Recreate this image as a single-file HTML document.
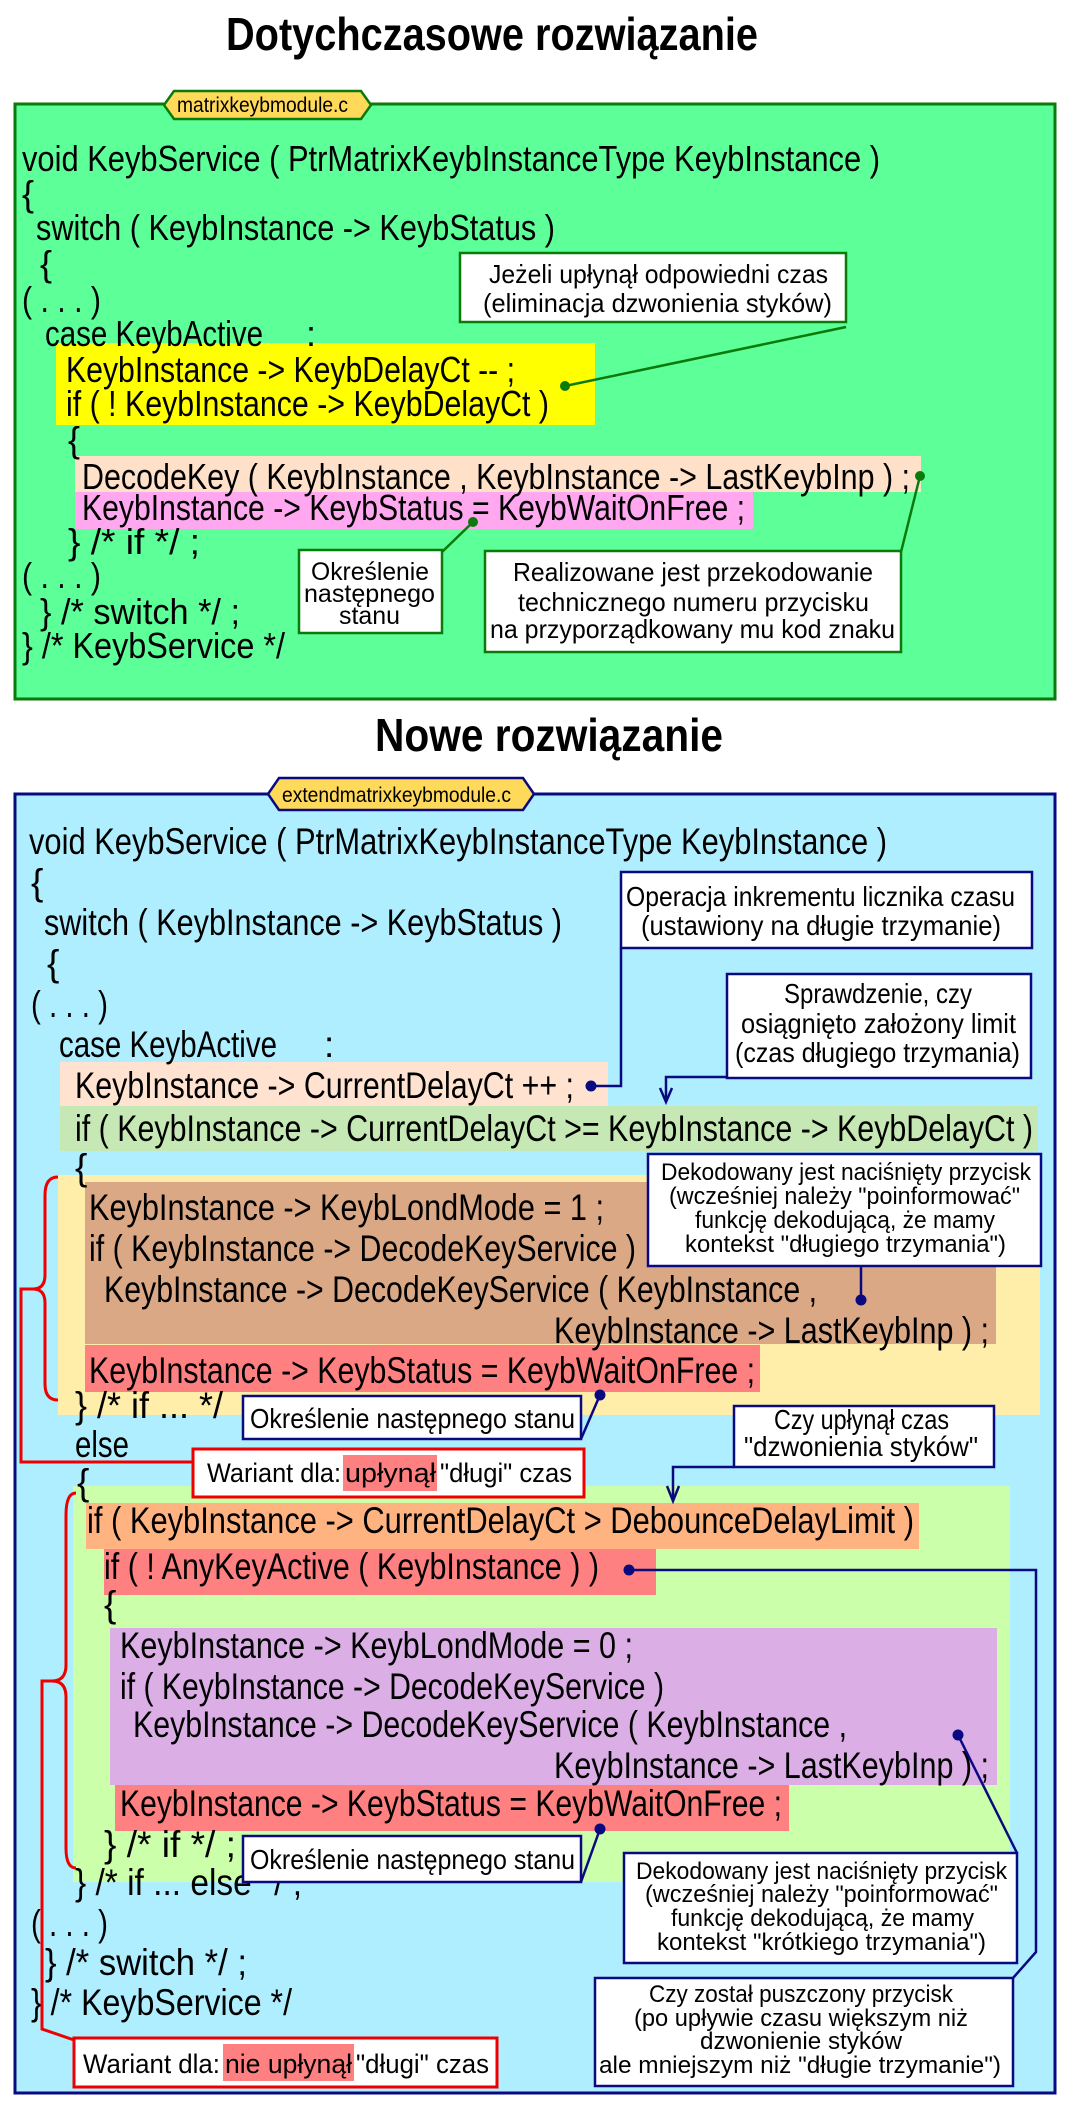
<!DOCTYPE html>
<html><head><meta charset="utf-8"><style>
html,body{margin:0;padding:0;background:#fff}
svg{display:block}
text{font-family:"Liberation Sans Narrow","Liberation Sans",sans-serif;fill:#000}
.c{font-size:36px}
.n{font-size:26px}
.s{font-size:22px}
.t{font-size:46px;font-weight:bold}
</style></head><body>
<svg width="1078" height="2115" viewBox="0 0 1078 2115" xmlns="http://www.w3.org/2000/svg">
<defs><marker id="ar" viewBox="0 0 10 10" refX="5" refY="10" markerWidth="10" markerHeight="14" markerUnits="userSpaceOnUse" orient="auto"></marker></defs>
<!-- Title 1 -->
<text class="t" x="226" y="50" textLength="532" lengthAdjust="spacingAndGlyphs">Dotychczasowe rozwiązanie</text>

<!-- Green box -->
<rect x="15" y="104" width="1040" height="595" fill="#5cff98" stroke="#0a7a0a" stroke-width="3"/>
<polygon points="164,105 174,91 361,91 371,105 361,119 174,119" fill="#ffd95a" stroke="#0a7a0a" stroke-width="2.5"/>
<text x="177" y="112" style="font-size:21px" textLength="171" lengthAdjust="spacingAndGlyphs">matrixkeybmodule.c</text>

<rect x="56" y="343" width="539" height="82" fill="#ffff00"/>
<rect x="75" y="456" width="846" height="36" fill="#ffe0c8"/>
<rect x="75" y="492" width="678" height="37" fill="#ffa8f0"/>

<g class="c">
<text x="22" y="171" textLength="858" lengthAdjust="spacingAndGlyphs">void KeybService ( PtrMatrixKeybInstanceType KeybInstance )</text>
<text x="22" y="206">{</text>
<text x="36" y="240" textLength="519" lengthAdjust="spacingAndGlyphs">switch ( KeybInstance -&gt; KeybStatus )</text>
<text x="40" y="276">{</text>
<text x="22" y="312" textLength="79" lengthAdjust="spacingAndGlyphs">( . . . )</text>
<text x="45" y="346" textLength="218" lengthAdjust="spacingAndGlyphs">case KeybActive</text>
<text x="306" y="346">:</text>
<text x="66" y="382" textLength="449" lengthAdjust="spacingAndGlyphs">KeybInstance -&gt; KeybDelayCt -- ;</text>
<text x="66" y="416" textLength="483" lengthAdjust="spacingAndGlyphs">if ( ! KeybInstance -&gt; KeybDelayCt )</text>
<text x="68" y="452">{</text>
<text x="82" y="489" textLength="828" lengthAdjust="spacingAndGlyphs">DecodeKey ( KeybInstance , KeybInstance -&gt; LastKeybInp ) ;</text>
<text x="82" y="520" textLength="663" lengthAdjust="spacingAndGlyphs">KeybInstance -&gt; KeybStatus = KeybWaitOnFree ;</text>
<text x="68" y="554" textLength="132" lengthAdjust="spacingAndGlyphs">} /* if */ ;</text>
<text x="22" y="588" textLength="79" lengthAdjust="spacingAndGlyphs">( . . . )</text>
<text x="40" y="624" textLength="200" lengthAdjust="spacingAndGlyphs">} /* switch */ ;</text>
<text x="22" y="658" textLength="263" lengthAdjust="spacingAndGlyphs">} /* KeybService */</text>
</g>

<!-- green callouts -->
<g stroke="#0a7a0a" stroke-width="2.5" fill="none">
<line x1="846" y1="327" x2="565" y2="386"/>
<line x1="442" y1="552" x2="473" y2="522"/>
<line x1="901" y1="552" x2="920" y2="476"/>
</g>
<g fill="#0a7a0a"><circle cx="565" cy="386" r="5"/><circle cx="473" cy="522" r="5"/><circle cx="920" cy="476" r="5"/></g>
<rect x="460" y="253" width="386" height="69" fill="#fff" stroke="#0a7a0a" stroke-width="2.5"/>
<text class="n" x="489" y="283" textLength="339" lengthAdjust="spacingAndGlyphs">Jeżeli upłynął odpowiedni czas</text>
<text class="n" x="483" y="312" textLength="349" lengthAdjust="spacingAndGlyphs">(eliminacja dzwonienia styków)</text>
<rect x="299" y="550" width="143" height="83" fill="#fff" stroke="#0a7a0a" stroke-width="2.5"/>
<text class="s" style="font-size:25px" x="311" y="580" textLength="118" lengthAdjust="spacingAndGlyphs">Określenie</text>
<text class="s" style="font-size:25px" x="304" y="602" textLength="131" lengthAdjust="spacingAndGlyphs">następnego</text>
<text class="s" style="font-size:25px" x="339" y="624" textLength="61" lengthAdjust="spacingAndGlyphs">stanu</text>
<rect x="485" y="551" width="416" height="101" fill="#fff" stroke="#0a7a0a" stroke-width="2.5"/>
<text class="n" x="513" y="581" textLength="360" lengthAdjust="spacingAndGlyphs">Realizowane jest przekodowanie</text>
<text class="n" x="518" y="611" textLength="351" lengthAdjust="spacingAndGlyphs">technicznego numeru przycisku</text>
<text class="n" x="490" y="638" textLength="405" lengthAdjust="spacingAndGlyphs">na przyporządkowany mu kod znaku</text>

<!-- Title 2 -->
<text class="t" x="375" y="751" textLength="348" lengthAdjust="spacingAndGlyphs">Nowe rozwiązanie</text>

<!-- Blue box -->
<rect x="15" y="794" width="1040" height="1299" fill="#aeeeff" stroke="#0a0a80" stroke-width="3"/>
<polygon points="268,794 279,778 523,778 534,794 523,810 279,810" fill="#ffd95a" stroke="#0a0a80" stroke-width="2.5"/>
<text x="282" y="802" style="font-size:21px" textLength="229" lengthAdjust="spacingAndGlyphs">extendmatrixkeybmodule.c</text>

<rect x="60" y="1062" width="548" height="44" fill="#ffe3d0"/>
<rect x="60" y="1106" width="978" height="45" fill="#c6e8b4"/>
<rect x="58" y="1175" width="982" height="240" fill="#ffeeaa"/>
<rect x="85" y="1182" width="911" height="162" fill="#dba886"/>
<rect x="85" y="1345" width="675" height="47" fill="#ff8080"/>
<rect x="73" y="1486" width="937" height="396" fill="#ccffaa"/>
<rect x="86" y="1503" width="833" height="46" fill="#ffb380"/>
<rect x="104" y="1549" width="552" height="46" fill="#ff8080"/>
<rect x="110" y="1628" width="887" height="157" fill="#dcaee6"/>
<rect x="115" y="1785" width="674" height="46" fill="#ff8080"/>

<g class="c" style="font-size:37px">
<text x="29" y="854" textLength="858" lengthAdjust="spacingAndGlyphs">void KeybService ( PtrMatrixKeybInstanceType KeybInstance )</text>
<text x="31" y="895">{</text>
<text x="44" y="935" textLength="518" lengthAdjust="spacingAndGlyphs">switch ( KeybInstance -&gt; KeybStatus )</text>
<text x="47" y="976">{</text>
<text x="31" y="1017" textLength="77" lengthAdjust="spacingAndGlyphs">( . . . )</text>
<text x="59" y="1057" textLength="218" lengthAdjust="spacingAndGlyphs">case KeybActive</text>
<text x="324" y="1057">:</text>
<text x="75" y="1098" textLength="499" lengthAdjust="spacingAndGlyphs">KeybInstance -&gt; CurrentDelayCt ++ ;</text>
<text x="75" y="1141" textLength="958" lengthAdjust="spacingAndGlyphs">if ( KeybInstance -&gt; CurrentDelayCt &gt;= KeybInstance -&gt; KeybDelayCt )</text>
<text x="75" y="1180">{</text>
<text x="89" y="1220" textLength="515" lengthAdjust="spacingAndGlyphs">KeybInstance -&gt; KeybLondMode = 1 ;</text>
<text x="89" y="1261" textLength="547" lengthAdjust="spacingAndGlyphs">if ( KeybInstance -&gt; DecodeKeyService )</text>
<text x="104" y="1302" textLength="713" lengthAdjust="spacingAndGlyphs">KeybInstance -&gt; DecodeKeyService ( KeybInstance ,</text>
<text x="554" y="1343" textLength="435" lengthAdjust="spacingAndGlyphs">KeybInstance -&gt; LastKeybInp ) ;</text>
<text x="89" y="1383" textLength="666" lengthAdjust="spacingAndGlyphs">KeybInstance -&gt; KeybStatus = KeybWaitOnFree ;</text>
<text x="75" y="1418" textLength="148" lengthAdjust="spacingAndGlyphs">} /* if ... */</text>
<text x="75" y="1457" textLength="54" lengthAdjust="spacingAndGlyphs">else</text>
<text x="77" y="1495">{</text>
<text x="87" y="1533" textLength="827" lengthAdjust="spacingAndGlyphs">if ( KeybInstance -&gt; CurrentDelayCt &gt; DebounceDelayLimit )</text>
<text x="104" y="1579" textLength="495" lengthAdjust="spacingAndGlyphs">if ( ! AnyKeyActive ( KeybInstance ) )</text>
<text x="104" y="1617">{</text>
<text x="120" y="1658" textLength="513" lengthAdjust="spacingAndGlyphs">KeybInstance -&gt; KeybLondMode = 0 ;</text>
<text x="120" y="1699" textLength="544" lengthAdjust="spacingAndGlyphs">if ( KeybInstance -&gt; DecodeKeyService )</text>
<text x="133" y="1737" textLength="714" lengthAdjust="spacingAndGlyphs">KeybInstance -&gt; DecodeKeyService ( KeybInstance ,</text>
<text x="554" y="1778" textLength="435" lengthAdjust="spacingAndGlyphs">KeybInstance -&gt; LastKeybInp ) ;</text>
<text x="120" y="1816" textLength="662" lengthAdjust="spacingAndGlyphs">KeybInstance -&gt; KeybStatus = KeybWaitOnFree ;</text>
<text x="104" y="1857" textLength="132" lengthAdjust="spacingAndGlyphs">} /* if */ ;</text>
<text x="75" y="1895" textLength="227" lengthAdjust="spacingAndGlyphs">} /* if ... else */ ;</text>
<text x="31" y="1936" textLength="77" lengthAdjust="spacingAndGlyphs">( . . . )</text>
<text x="45" y="1975" textLength="202" lengthAdjust="spacingAndGlyphs">} /* switch */ ;</text>
<text x="31" y="2015" textLength="261" lengthAdjust="spacingAndGlyphs">} /* KeybService */</text>
</g>

<!-- red braces -->
<g stroke="#ee0000" stroke-width="3" fill="none">
<path d="M58,1177 Q45,1177 45,1195 L45,1275 Q45,1289 33,1289 Q45,1289 45,1303 L45,1384 Q45,1400 58,1400"/>
<path d="M33,1289 L21,1289 L21,1462 L193,1462"/>
<path d="M76,1493 Q66,1493 66,1515 L66,1665 Q66,1681 52,1681 Q66,1681 66,1697 L66,1848 Q66,1868 76,1868"/>
<path d="M52,1681 L42,1681 L42,2029 L74,2040"/>
</g>

<!-- navy connectors -->
<g stroke="#0a0a80" stroke-width="2.5" fill="none">
<polyline points="621,948 621,1086 591,1086"/>
<polyline points="727,1077 666,1077 666,1101"/>
<polyline points="660,1088 666,1102 672,1088"/>
<line x1="861" y1="1266" x2="861" y2="1300"/>
<line x1="581" y1="1439" x2="600" y2="1395"/>
<polyline points="734,1467 673,1467 673,1500"/>
<polyline points="667,1486 673,1501 679,1486"/>
<line x1="1017" y1="1853" x2="958" y2="1735"/>
<line x1="581" y1="1882" x2="600" y2="1829"/>
<polyline points="1013,1978 1036,1952 1036,1570 629,1570"/>
</g>
<g fill="#0a0a80">
<circle cx="591" cy="1086" r="5.5"/><circle cx="861" cy="1300" r="5.5"/><circle cx="600" cy="1395" r="5.5"/>
<circle cx="958" cy="1735" r="5.5"/><circle cx="600" cy="1829" r="5.5"/><circle cx="629" cy="1570" r="5.5"/>
</g>

<!-- navy callouts -->
<g fill="#fff" stroke="#0a0a80" stroke-width="2.5">
<rect x="621" y="872" width="411" height="76"/>
<rect x="727" y="974" width="304" height="104"/>
<rect x="648" y="1154" width="393" height="112"/>
<rect x="243" y="1396" width="338" height="43"/>
<rect x="734" y="1406" width="260" height="61"/>
<rect x="243" y="1836" width="338" height="46"/>
<rect x="624" y="1853" width="393" height="110"/>
<rect x="595" y="1978" width="418" height="108"/>
</g>
<g class="n" style="font-size:28px">
<text x="626" y="906" textLength="389" lengthAdjust="spacingAndGlyphs">Operacja inkrementu licznika czasu</text>
<text x="641" y="935" textLength="360" lengthAdjust="spacingAndGlyphs">(ustawiony na długie trzymanie)</text>
<text x="784" y="1003" textLength="188" lengthAdjust="spacingAndGlyphs">Sprawdzenie, czy</text>
<text x="741" y="1033" textLength="275" lengthAdjust="spacingAndGlyphs">osiągnięto założony limit</text>
<text x="735" y="1062" textLength="285" lengthAdjust="spacingAndGlyphs">(czas długiego trzymania)</text>
<text x="250" y="1428" textLength="325" lengthAdjust="spacingAndGlyphs">Określenie następnego stanu</text>
<text x="774" y="1429" textLength="175" lengthAdjust="spacingAndGlyphs">Czy upłynął czas</text>
<text x="744" y="1456" textLength="234" lengthAdjust="spacingAndGlyphs">"dzwonienia styków"</text>
<text x="250" y="1869" textLength="325" lengthAdjust="spacingAndGlyphs">Określenie następnego stanu</text>
</g>
<g class="s" style="font-size:24px">
<text x="661" y="1180" textLength="370" lengthAdjust="spacingAndGlyphs">Dekodowany jest naciśnięty przycisk</text>
<text x="669" y="1204" textLength="351" lengthAdjust="spacingAndGlyphs">(wcześniej należy "poinformować"</text>
<text x="695" y="1228" textLength="300" lengthAdjust="spacingAndGlyphs">funkcję dekodującą, że mamy</text>
<text x="685" y="1252" textLength="321" lengthAdjust="spacingAndGlyphs">kontekst "długiego trzymania")</text>
<text x="636" y="1879" textLength="371" lengthAdjust="spacingAndGlyphs">Dekodowany jest naciśnięty przycisk</text>
<text x="645" y="1902" textLength="353" lengthAdjust="spacingAndGlyphs">(wcześniej należy "poinformować"</text>
<text x="671" y="1926" textLength="303" lengthAdjust="spacingAndGlyphs">funkcję dekodującą, że mamy</text>
<text x="657" y="1950" textLength="329" lengthAdjust="spacingAndGlyphs">kontekst "krótkiego trzymania")</text>
<text x="649" y="2002" textLength="304" lengthAdjust="spacingAndGlyphs">Czy został puszczony przycisk</text>
<text x="634" y="2026" textLength="334" lengthAdjust="spacingAndGlyphs">(po upływie czasu większym niż</text>
<text x="700" y="2049" textLength="202" lengthAdjust="spacingAndGlyphs">dzwonienie styków</text>
<text x="599" y="2073" textLength="402" lengthAdjust="spacingAndGlyphs">ale mniejszym niż "długie trzymanie")</text>
</g>

<!-- red variant boxes -->
<rect x="193" y="1449" width="391" height="48" fill="#fff" stroke="#ee0000" stroke-width="3"/>
<rect x="343" y="1455" width="94" height="36" fill="#ff8080"/>
<g class="n" style="font-size:27px">
<text x="207" y="1482" textLength="134" lengthAdjust="spacingAndGlyphs">Wariant dla:</text>
<text x="345" y="1482" textLength="91" lengthAdjust="spacingAndGlyphs">upłynął</text>
<text x="440" y="1482" textLength="132" lengthAdjust="spacingAndGlyphs">"długi" czas</text>
</g>
<rect x="74" y="2038" width="423" height="49" fill="#fff" stroke="#ee0000" stroke-width="3"/>
<rect x="223" y="2044" width="131" height="37" fill="#ff8080"/>
<g class="n" style="font-size:27px">
<text x="83" y="2073" textLength="137" lengthAdjust="spacingAndGlyphs">Wariant dla:</text>
<text x="225" y="2073" textLength="127" lengthAdjust="spacingAndGlyphs">nie upłynął</text>
<text x="356" y="2073" textLength="133" lengthAdjust="spacingAndGlyphs">"długi" czas</text>
</g>
</svg>
</body></html>
